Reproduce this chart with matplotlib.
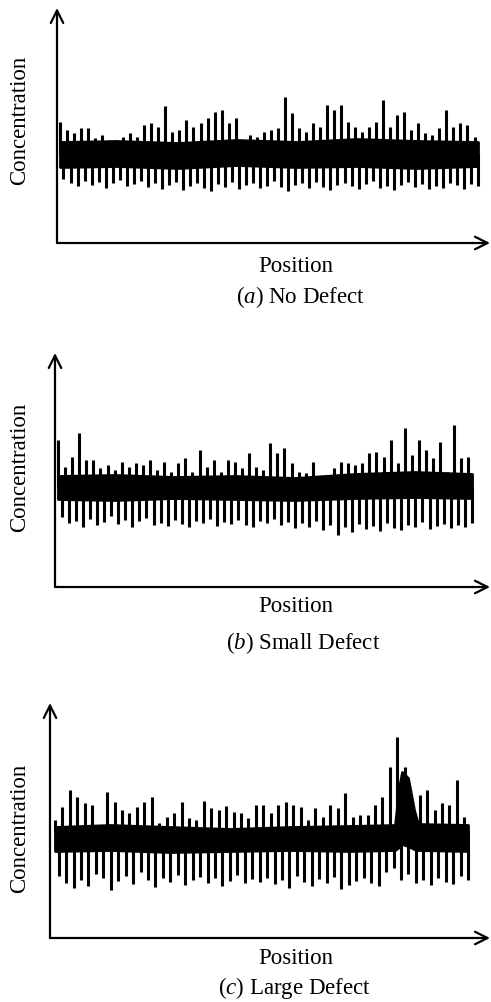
import numpy as np
import matplotlib
matplotlib.use("Agg")
import matplotlib.pyplot as plt

plt.rcParams['font.family'] = ['Liberation Serif', 'DejaVu Serif']
plt.rcParams['mathtext.fontset'] = 'custom'
plt.rcParams['mathtext.rm'] = 'Liberation Serif'
plt.rcParams['mathtext.it'] = 'Liberation Serif:italic'

# ---------------- data (heights above the position axis) ----------------
tops_a = [121, 113, 110, 115, 115, 105, 108, 103, 103, 106, 110, 106, 118, 120, 116,
          137, 111, 113, 123, 116, 120, 125, 131, 133, 120, 125, 103, 108, 106, 111,
          113, 115, 146, 130, 115, 111, 120, 116, 138, 133, 138, 121, 116, 111, 116,
          121, 143, 116, 128, 131, 113, 120, 110, 108, 115, 133, 116, 120, 118, 106]
bottoms_a = [64, 60, 57, 62, 58, 61, 55, 60, 63, 57, 59, 62, 56, 60, 54, 58, 61, 53,
             57, 60, 55, 52, 59, 56, 61, 54, 58, 60, 55, 57, 62, 56, 52, 58, 60, 55,
             61, 56, 53, 58, 60, 57, 54, 59, 62, 55, 57, 53, 58, 61, 56, 59, 54, 57,
             55, 60, 58, 54, 59, 57]
core_pos_a = [3, 60, 120, 180, 240, 300, 360, 421]
core_hi_a = [101, 102, 100, 103, 101, 104, 102, 101]
core_lo_a = [76, 77, 75, 78, 76, 77, 75, 77]

tops_b = [147, 120, 130, 154, 127, 127, 119, 122, 117, 125, 120, 124, 122, 127, 117,
          125, 115, 124, 129, 115, 137, 120, 127, 115, 127, 125, 119, 134, 120, 117,
          144, 134, 139, 124, 115, 114, 125, 110, 109, 119, 125, 124, 122, 124, 134,
          135, 130, 147, 124, 159, 132, 147, 137, 129, 145, 115, 162, 129, 130]
bottoms_b = [70, 64, 66, 60, 68, 62, 65, 71, 63, 67, 60, 66, 69, 62, 64, 61, 67, 63,
             60, 66, 64, 68, 61, 65, 63, 67, 62, 60, 66, 64, 68, 62, 65, 59, 64, 60,
             66, 57, 62, 52, 60, 55, 63, 58, 61, 56, 64, 59, 57, 62, 60, 65, 58, 61,
             63, 59, 62, 60, 64]
core_pos_b = [3, 60, 120, 180, 240, 300, 360, 417]
core_hi_b = [111, 112, 110, 111, 109, 113, 115, 113]
core_lo_b = [88, 87, 89, 88, 87, 89, 90, 89]

tops_c = [118, 131, 148, 141, 135, 133, 111, 146, 136, 128, 125, 131, 136, 141, 115,
          121, 125, 136, 120, 118, 137, 130, 128, 132, 126, 125, 120, 133,
          133, 125, 133, 136, 133, 131, 118, 130, 121, 133, 130, 145, 121, 123, 123,
          133, 141, 171, 201, 171, 138, 143, 148, 128, 135, 133, 158, 121]
bottoms_c = [62, 55, 50, 58, 52, 64, 60, 48, 57, 62, 54, 66, 58, 51, 60, 56, 63, 53,
             58, 61, 55, 60, 52, 57, 63, 55, 59, 56,
             60, 54, 58, 50, 62, 56, 52, 59, 55, 61, 49, 53, 57, 60, 55, 52, 66, 70,
             58, 64, 55, 58, 53, 60, 56, 54, 62, 58]
core_pos_c = [5, 60, 120, 180, 240, 300, 345, 349, 352, 358, 364, 368, 418]
core_hi_c = [111, 113, 111, 109, 111, 112, 113, 150, 166, 160, 128, 114, 113]
core_lo_c = [87, 88, 86, 87, 88, 87, 88, 91, 94, 92, 89, 88, 87]

captions = ["($a$) No Defect", "($b$) Small Defect", "($c$) Large Defect"]

# ---------------- layout (pixel geometry of the reference) ----------------
W, H = 491, 1002
fig = plt.figure(figsize=(W / 100, H / 100), dpi=100)

panels = [
    dict(l=57, r=490, b=243, t=8, s=3, e=421, ly=120, py=267, cx=300, cy=297,
         tops=tops_a, bots=bottoms_a, cp=core_pos_a, ch=core_hi_a, cl=core_lo_a),
    dict(l=55, r=490, b=587, t=353, s=3, e=417, ly=467, py=606, cx=303, cy=643,
         tops=tops_b, bots=bottoms_b, cp=core_pos_b, ch=core_hi_b, cl=core_lo_b),
    dict(l=50, r=490, b=938, t=703, s=5, e=418, ly=828, py=958, cx=295, cy=988,
         tops=tops_c, bots=bottoms_c, cp=core_pos_c, ch=core_hi_c, cl=core_lo_c),
]

for p, cap in zip(panels, captions):
    ax = fig.add_axes([p['l'] / W, 1 - p['b'] / H, (p['r'] - p['l']) / W,
                       (p['b'] - p['t']) / H])
    ax.set_xlim(0, p['r'] - p['l'])
    ax.set_ylim(0, p['b'] - p['t'])
    ax.axis('off')

    n_up = len(p['tops'])
    n_dn = len(p['bots'])
    step = (p['e'] - p['s']) / n_up
    x_up = np.linspace(p['s'], p['e'] - step / 2, n_up)
    x_dn = np.linspace(p['s'] + step / 2, p['e'], n_dn)
    mid = np.mean(p['ch']) * 0.5 + np.mean(p['cl']) * 0.5

    ax.fill_between(p['cp'], p['cl'], p['ch'], color='black', lw=2.0,
                    edgecolor='black')
    ax.vlines(x_up, mid, p['tops'], color='black', lw=2.2)
    ax.vlines(x_dn, p['bots'], mid, color='black', lw=2.2)

    arrow = dict(arrowstyle='->,head_length=0.9,head_width=0.45', lw=1.6,
                 color='black', shrinkA=0, shrinkB=0)
    ax.annotate('', xy=(0, 1), xytext=(0, 0), xycoords='axes fraction',
                arrowprops=arrow, annotation_clip=False)
    ax.annotate('', xy=(1, 0), xytext=(0, 0), xycoords='axes fraction',
                arrowprops=arrow, annotation_clip=False)

    fig.text(20 / W, 1 - p['ly'] / H, "Concentration", rotation=90,
             ha='center', va='center', fontsize=16.5)
    fig.text(296 / W, 1 - p['py'] / H, "Position", ha='center', va='center',
             fontsize=16.5)
    fig.text(p['cx'] / W, 1 - p['cy'] / H, cap, ha='center', va='center',
             fontsize=16.5)

fig.savefig("out.png", dpi=100, facecolor='white')
